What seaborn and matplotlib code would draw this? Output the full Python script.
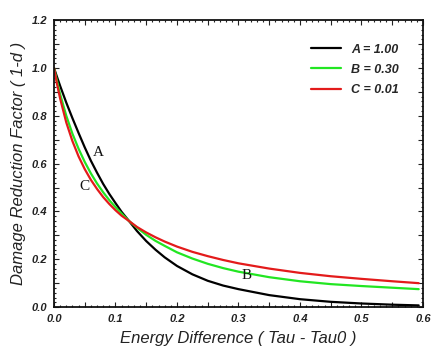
import numpy as np
import pandas as pd
import seaborn as sns
import matplotlib
matplotlib.use('Agg')
import matplotlib.pyplot as plt
from matplotlib.ticker import MultipleLocator, FuncFormatter

# values
energy = [0.0, 0.005, 0.01, 0.02, 0.03, 0.04, 0.05, 0.06, 0.07, 0.08, 0.09, 0.10,
          0.11, 0.122, 0.135, 0.15, 0.165, 0.18, 0.20, 0.225, 0.25, 0.275, 0.30,
          0.35, 0.40, 0.45, 0.50, 0.55, 0.593]
curve_a = [1.0, 0.962, 0.925, 0.855, 0.79, 0.728, 0.668, 0.612, 0.562, 0.515, 0.473, 0.435,
           0.398, 0.36, 0.318, 0.276, 0.24, 0.208, 0.172, 0.137, 0.11, 0.09, 0.075,
           0.05, 0.033, 0.022, 0.015, 0.010, 0.007]
curve_b = [1.0, 0.944, 0.89, 0.80, 0.725, 0.662, 0.607, 0.559, 0.517, 0.48, 0.447, 0.418,
           0.391, 0.36, 0.332, 0.302, 0.277, 0.256, 0.229, 0.203, 0.181, 0.163, 0.148,
           0.125, 0.108, 0.096, 0.088, 0.081, 0.075]
curve_c = [1.0, 0.932, 0.872, 0.772, 0.694, 0.63, 0.577, 0.532, 0.494, 0.46, 0.431, 0.405,
           0.382, 0.36, 0.335, 0.312, 0.292, 0.274, 0.253, 0.231, 0.213, 0.197, 0.183,
           0.161, 0.143, 0.129, 0.118, 0.108, 0.100]
series_labels = ['A = 1.00', 'B = 0.30', 'C = 0.01']
series_colors = ['#000000', '#22e622', '#e31b1b']

# curve letters inside the plot
letters = ['A', 'B', 'C']
letter_x = [0.072, 0.313, 0.050]
letter_y = [0.645, 0.130, 0.503]

df = pd.DataFrame({
    'x': energy * 3,
    'y': curve_a + curve_b + curve_c,
    'series': sum([[s] * len(energy) for s in series_labels], []),
})

sns.set_style('ticks')
plt.rcParams['font.family'] = ['Liberation Sans', 'DejaVu Sans']

fig = plt.figure(figsize=(4.44, 3.6), dpi=100)
ax = fig.add_axes([0.1216, 0.147, 0.8311, 0.797])

sns.lineplot(data=df, x='x', y='y', hue='series', palette=series_colors,
             estimator=None, sort=False, linewidth=1.6, ax=ax)

for t, xx, yy in zip(letters, letter_x, letter_y):
    ax.text(xx, yy, t, family='Liberation Serif', fontsize=11,
            ha='center', va='center', color='#111111')

ax.set_xlim(0, 0.6)
ax.set_ylim(0, 1.2)

# ticks: labelled every 0.1 / 0.2, medium ticks between, small minors
ax.xaxis.set_major_locator(MultipleLocator(0.05))
ax.xaxis.set_minor_locator(MultipleLocator(0.01))
ax.yaxis.set_major_locator(MultipleLocator(0.1))
ax.yaxis.set_minor_locator(MultipleLocator(0.02))
ax.xaxis.set_major_formatter(FuncFormatter(
    lambda v, p: f'{v:.1f}' if abs(v * 10 - round(v * 10)) < 1e-6 else ''))
ax.yaxis.set_major_formatter(FuncFormatter(
    lambda v, p: f'{v:.1f}' if abs(v * 5 - round(v * 5)) < 1e-6 else ''))
ax.tick_params(which='both', direction='in', top=True, right=True,
               color='#222222', width=0.8)
ax.tick_params(which='major', length=3.5, labelsize=8, pad=5)
ax.tick_params(which='minor', length=1.6)
for lab in ax.get_xticklabels() + ax.get_yticklabels():
    lab.set_fontweight('bold')
    lab.set_fontstyle('italic')
    lab.set_color('#222222')

for sp in ax.spines.values():
    sp.set_visible(True)
    sp.set_linewidth(1.3)
    sp.set_color('#111111')

ax.set_xlabel('Energy Difference ( Tau - Tau0 )', fontsize=12,
              fontstyle='italic', labelpad=5, color='#222222')
ax.set_ylabel('Damage Reduction Factor ( 1-d )', fontsize=12,
              fontstyle='italic', labelpad=4, color='#222222')

handles, labels = ax.get_legend_handles_labels()
leg = ax.legend(handles, labels, loc='upper left', bbox_to_anchor=(0.68, 0.94),
                frameon=False, borderpad=0, handlelength=2.4, handletextpad=0.8,
                labelspacing=0.65, prop={'weight': 'bold', 'style': 'italic',
                                         'size': 9})

fig.savefig('out.png', dpi=100)
